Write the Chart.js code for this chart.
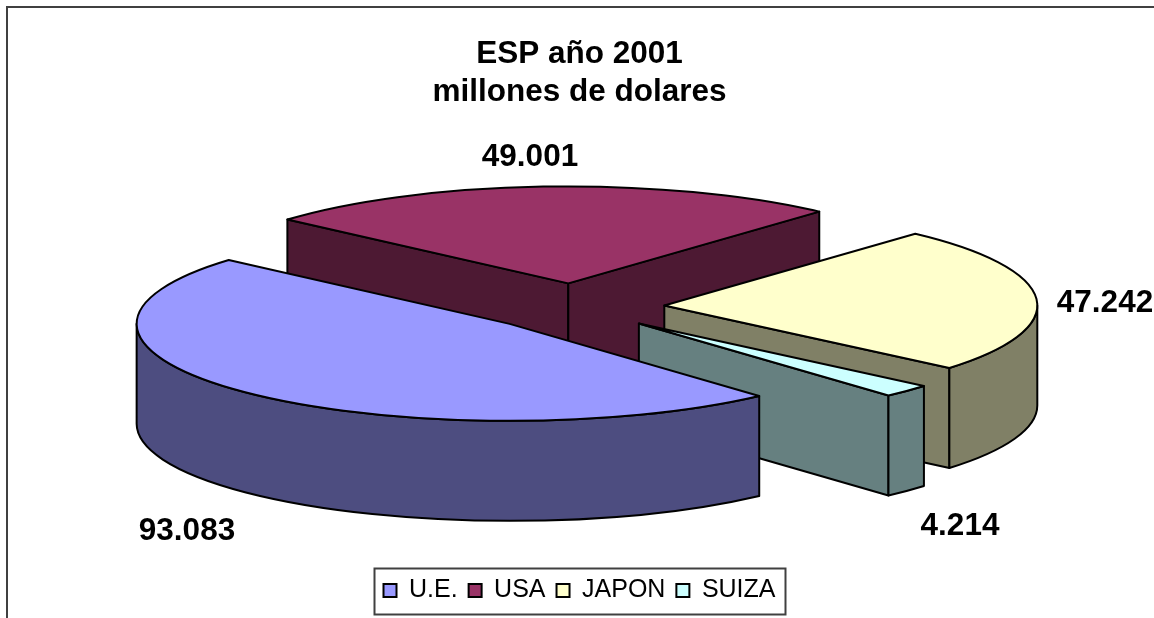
<!DOCTYPE html>
<html><head><meta charset="utf-8">
<style>html,body{margin:0;padding:0;background:#fff}canvas{display:block}</style>
<script src="https://cdn.jsdelivr.net/npm/chart.js@4/dist/chart.umd.min.js"></script>
</head><body>
<canvas id="c" width="1154" height="618"></canvas>
<script>
const titleLines = ['ESP año 2001', 'millones de dolares'];
const categories = ['U.E.', 'USA', 'JAPON', 'SUIZA'];
const values = [93083, 49001, 47242, 4214];
const topColors = ['#9999FF', '#993366', '#FFFFCC', '#CCFFFF'];
const wallColors = ['#4D4D80', '#4D1933', '#808066', '#668080'];

// layout of the tilted pie, and of its value labels
const PIE = {cx: 573.5, cy: 307, radius: 373, tilt: 0.26, depth: 100, explode: 91, rotation: 138};
const drawOrder = [1, 2, 3, 0];
const labelAnchors = [[187, 531], [530, 157], [1105, 303], [960, 526]];
const FONT = '"Liberation Sans", Arial, sans-serif';

const fmt = v => String(v).replace(/\B(?=(\d{3})+$)/g, '.');

class Pie3DController extends Chart.DoughnutController {
  draw() {
    const ctx = this.chart.ctx;
    const arcs = this.getMeta().data;
    const b = PIE.radius * PIE.tilt, a = PIE.radius, d = PIE.depth;
    drawOrder.forEach(i => {
      const arc = arcs[i];
      const s = arc.startAngle, e = arc.endAngle, mid = (s + e) / 2;
      const x = PIE.cx + PIE.explode * Math.cos(mid);
      const y = PIE.cy + PIE.explode * PIE.tilt * Math.sin(mid);
      const px = t => x + a * Math.cos(t), py = t => y + b * Math.sin(t);
      ctx.save();
      ctx.lineWidth = 2;
      ctx.lineJoin = 'round';
      ctx.strokeStyle = '#000';
      ctx.fillStyle = wallColors[i];
      // radial cut faces turned toward the viewer
      [[s, s - Math.PI / 2], [e, e + Math.PI / 2]].forEach(([t, normal]) => {
        if (Math.sin(normal) <= 0) return;
        ctx.beginPath();
        ctx.moveTo(x, y);
        ctx.lineTo(px(t), py(t));
        ctx.lineTo(px(t), py(t) + d);
        ctx.lineTo(x, y + d);
        ctx.closePath();
        ctx.fill();
        ctx.stroke();
      });
      // curved outer wall: the part on the front half of the ellipse
      for (const k of [0, 2]) {
        const lo = Math.max(s, k * Math.PI), hi = Math.min(e, (k + 1) * Math.PI);
        if (hi <= lo) continue;
        ctx.beginPath();
        ctx.ellipse(x, y, a, b, 0, lo, hi);
        ctx.lineTo(px(hi), py(hi) + d);
        ctx.ellipse(x, y + d, a, b, 0, hi, lo, true);
        ctx.closePath();
        ctx.fill();
        ctx.stroke();
      }
      // top face: the library's own arc, squashed into the tilted plane
      ctx.save();
      ctx.translate(x, y);
      ctx.scale(1, PIE.tilt);
      ctx.translate(-arc.x, -arc.y);
      arc.draw(ctx);
      ctx.restore();
      ctx.beginPath();
      ctx.moveTo(x, y);
      ctx.ellipse(x, y, a, b, 0, s, e);
      ctx.closePath();
      ctx.stroke();
      ctx.restore();
    });
  }
}
Pie3DController.id = 'pie3d';
Pie3DController.defaults = Chart.DoughnutController.defaults;
Pie3DController.overrides = Chart.DoughnutController.overrides;
Chart.register(Pie3DController);

const decorations = {
  id: 'decorations',
  beforeDraw(chart) {
    const ctx = chart.ctx;
    ctx.save();
    ctx.strokeStyle = '#404040';
    ctx.lineWidth = 2;
    ctx.beginPath();
    ctx.moveTo(7, 618);
    ctx.lineTo(7, 7);
    ctx.lineTo(1154, 7);
    ctx.stroke();
    ctx.restore();
  },
  afterDraw(chart) {
    const ctx = chart.ctx;
    const boxes = chart.legend.legendHitBoxes;
    const l = boxes[0].left, last = boxes[boxes.length - 1];
    ctx.save();
    ctx.strokeStyle = '#404040';
    ctx.lineWidth = 2;
    ctx.strokeRect(l - 9, boxes[0].top - 9.5, last.left + last.width - l + 19, 46);
    ctx.fillStyle = '#000';
    ctx.font = 'bold 31.5px ' + FONT;
    ctx.textAlign = 'center';
    ctx.textBaseline = 'middle';
    values.forEach((v, i) => ctx.fillText(fmt(v), labelAnchors[i][0], labelAnchors[i][1]));
    ctx.restore();
  }
};

new Chart(document.getElementById('c'), {
  type: 'pie3d',
  plugins: [decorations],
  data: {
    labels: categories,
    datasets: [{
      data: values,
      backgroundColor: topColors,
      borderWidth: 0,
      radius: PIE.radius,
      cutout: 0,
      rotation: PIE.rotation,
      clip: false
    }]
  },
  options: {
    responsive: false,
    animation: false,
    cutout: 0,
    rotation: PIE.rotation,
    layout: {padding: {left: 5, right: 0, top: 0, bottom: 5}},
    plugins: {
      tooltip: {enabled: false},
      title: {
        display: true,
        text: titleLines,
        color: '#000',
        font: {family: FONT, size: 31.5, weight: 'bold', lineHeight: 1.21},
        padding: {top: 35, bottom: 10}
      },
      legend: {
        position: 'bottom',
        labels: {
          color: '#000',
          font: {family: FONT, size: 25},
          boxWidth: 13,
          boxHeight: 13,
          padding: 11,
          generateLabels: () => categories.map((t, i) => ({
            text: t, fillStyle: topColors[i], strokeStyle: '#000', lineWidth: 2, hidden: false, index: i
          }))
        }
      }
    }
  }
});
</script>
</body></html>
